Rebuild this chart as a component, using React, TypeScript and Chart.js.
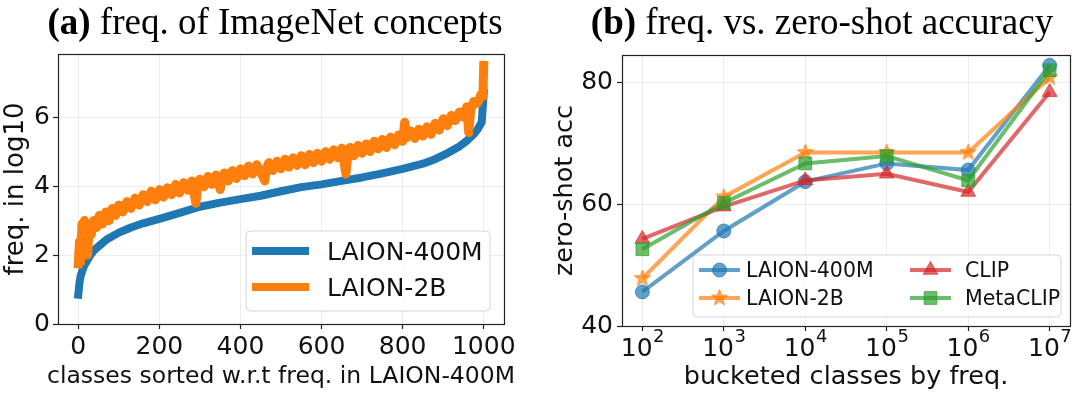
import React, { useEffect, useRef } from "react";
import { Chart, registerables } from "chart.js";
Chart.register(...registerables);

// ---------- Panel (a) data ----------
const seriesA = ["LAION-400M", "LAION-2B"];
const blueX = [0, 3, 6, 10, 15, 20, 30, 40, 50, 70, 100, 130, 160, 200, 250, 300, 350, 400, 450, 500, 550, 600, 650, 700, 750, 800, 850, 880, 910, 940, 960, 975, 985, 995, 1000];
const blueY = [0.85, 1.2, 1.4, 1.55, 1.7, 1.8, 2.0, 2.15, 2.25, 2.45, 2.65, 2.8, 2.92, 3.05, 3.22, 3.4, 3.52, 3.62, 3.72, 3.85, 3.97, 4.05, 4.15, 4.25, 4.37, 4.5, 4.65, 4.78, 4.95, 5.15, 5.33, 5.5, 5.65, 5.85, 6.7];
const orangeX = [0, 3, 6, 9, 12, 15, 19, 23, 27, 32, 38, 45, 52, 60, 68, 76, 84, 92, 100, 110, 120, 130, 140, 150, 160, 170, 180, 190, 200, 210, 220, 230, 240, 250, 260, 270, 280, 290, 295, 300, 310, 320, 330, 340, 350, 355, 360, 370, 380, 390, 400, 410, 420, 430, 440, 450, 460, 465, 470, 480, 490, 500, 510, 520, 530, 540, 550, 560, 570, 580, 590, 600, 610, 620, 630, 640, 650, 660, 665, 670, 680, 690, 700, 710, 720, 730, 740, 750, 760, 770, 780, 790, 800, 805, 810, 820, 830, 840, 850, 860, 870, 880, 890, 900, 910, 920, 930, 940, 950, 958, 963, 968, 975, 985, 993, 998, 1000];
const orangeY = [1.75, 2.4, 1.8, 2.9, 2.4, 3.0, 2.6, 2.0, 2.9, 2.6, 3.0, 2.8, 3.15, 2.9, 3.25, 3.0, 3.35, 3.15, 3.45, 3.25, 3.55, 3.35, 3.65, 3.45, 3.75, 3.55, 3.85, 3.6, 3.9, 3.68, 3.95, 3.75, 4.05, 3.8, 4.1, 3.88, 4.15, 3.5, 4.05, 4.2, 3.98, 4.28, 4.05, 4.32, 3.9, 4.25, 4.38, 4.15, 4.45, 4.22, 4.5, 4.3, 4.58, 4.35, 4.62, 4.4, 4.15, 4.55, 4.68, 4.45, 4.72, 4.5, 4.78, 4.55, 4.82, 4.6, 4.88, 4.62, 4.92, 4.68, 4.95, 4.72, 5.0, 4.78, 5.05, 4.82, 5.1, 4.35, 4.9, 5.12, 4.88, 5.18, 4.95, 5.22, 5.0, 5.3, 5.08, 5.35, 5.12, 5.42, 5.2, 5.48, 5.3, 5.85, 5.4, 5.6, 5.38, 5.65, 5.45, 5.72, 5.5, 5.82, 5.62, 5.95, 5.75, 6.05, 5.9, 6.15, 6.0, 6.3, 5.55, 6.2, 6.45, 6.4, 6.65, 6.6, 7.5];
const xTicksA = [0, 200, 400, 600, 800, 1000];
const yTicksA = [0, 2, 4, 6];

// ---------- Panel (b) data ----------
const seriesB = ["LAION-400M", "LAION-2B", "CLIP", "MetaCLIP"];
const buckets = [1e2, 1e3, 1e4, 1e5, 1e6, 1e7];
const bucketBase = "10";
const bucketExps = ["2", "3", "4", "5", "6", "7"];
const accLaion400m = [45.6, 55.6, 63.7, 66.7, 65.6, 82.8];
const accLaion2b = [47.8, 61.2, 68.5, 68.5, 68.5, 80.8];
const accClip = [54.3, 59.6, 63.9, 65.0, 62.0, 78.4];
const accMetaclip = [52.6, 60.2, 66.7, 67.9, 63.9, 82.0];
const yTicksB = [40, 60, 80];

const SANS = "'DejaVu Sans', sans-serif";
const SERIF = "'Liberation Serif', 'DejaVu Serif', serif";
const TICK_SIZE = 25;

function makeStar(color: string, r: number): HTMLCanvasElement {
  const size = Math.ceil(r * 2 + 2);
  const c = document.createElement("canvas");
  c.width = size;
  c.height = size;
  const ctx = c.getContext("2d")!;
  ctx.fillStyle = color;
  ctx.strokeStyle = color;
  ctx.lineWidth = 1;
  ctx.beginPath();
  const cx = size / 2, cy = size / 2;
  for (let i = 0; i < 10; i++) {
    const rad = i % 2 === 0 ? r : r * 0.42;
    const a = -Math.PI / 2 + (i * Math.PI) / 5;
    ctx.lineTo(cx + rad * Math.cos(a), cy + rad * Math.sin(a));
  }
  ctx.closePath();
  ctx.fill();
  ctx.stroke();
  return c;
}

function drawMarker(ctx: CanvasRenderingContext2D, style: any, x: number, y: number, r: number, color: string) {
  ctx.save();
  ctx.fillStyle = color;
  ctx.strokeStyle = color;
  ctx.lineWidth = 1;
  if (style instanceof HTMLCanvasElement) {
    ctx.drawImage(style, x - style.width / 2, y - style.height / 2);
    ctx.restore();
    return;
  }
  ctx.beginPath();
  if (style === "circle") ctx.arc(x, y, r, 0, Math.PI * 2);
  else if (style === "triangle") {
    for (let i = 0; i < 3; i++) {
      const a = (i * 2 * Math.PI) / 3;
      ctx.lineTo(x + Math.sin(a) * r, y - Math.cos(a) * r);
    }
    ctx.closePath();
  } else if (style === "rect") {
    const s = r * Math.SQRT1_2;
    ctx.rect(x - s, y - s, 2 * s, 2 * s);
  }
  ctx.fill();
  ctx.stroke();
  ctx.restore();
}

const framePlugin = {
  id: "frame",
  afterDatasetsDraw(chart: any) {
    const { ctx, chartArea } = chart;
    ctx.save();
    ctx.strokeStyle = "#222";
    ctx.lineWidth = 1.2;
    ctx.strokeRect(Math.round(chartArea.left) + 0.5, Math.round(chartArea.top) + 0.5, Math.round(chartArea.right - chartArea.left), Math.round(chartArea.bottom - chartArea.top));
    ctx.restore();
  },
};

const boxLegendPlugin = {
  id: "boxLegend",
  afterDatasetsDraw(chart: any, _args: any, opts: any) {
    if (!opts || !opts.items) return;
    const ctx: CanvasRenderingContext2D = chart.ctx;
    const { x, y, w, h, fontSize, lineLen } = opts;
    ctx.save();
    ctx.beginPath();
    const rr = 4;
    ctx.moveTo(x + rr, y);
    ctx.arcTo(x + w, y, x + w, y + h, rr);
    ctx.arcTo(x + w, y + h, x, y + h, rr);
    ctx.arcTo(x, y + h, x, y, rr);
    ctx.arcTo(x, y, x + w, y, rr);
    ctx.closePath();
    ctx.fillStyle = "rgba(255,255,255,0.8)";
    ctx.fill();
    ctx.strokeStyle = "#d6d6d6";
    ctx.lineWidth = 1;
    ctx.stroke();
    ctx.font = `${fontSize}px ${SANS}`;
    ctx.textAlign = "left";
    ctx.textBaseline = "alphabetic";
    for (const it of opts.items) {
      const ds = chart.data.datasets[it.ds];
      ctx.strokeStyle = ds.borderColor;
      ctx.lineWidth = Math.min(ds.borderWidth, opts.maxLineWidth || 99);
      ctx.lineCap = "butt";
      ctx.beginPath();
      ctx.moveTo(it.lx, it.y);
      ctx.lineTo(it.lx + lineLen, it.y);
      ctx.stroke();
      if (ds.pointRadius > 0) drawMarker(ctx, ds.pointStyle, it.lx + lineLen / 2, it.y, ds.pointRadius, ds.pointBackgroundColor);
      ctx.fillStyle = "#111";
      ctx.fillText(ds.label, it.tx, it.y + fontSize * 0.36);
    }
    ctx.restore();
  },
};

const panelTitlePlugin = {
  id: "panelTitle",
  afterDraw(chart: any, _args: any, opts: any) {
    if (!opts || !opts.text) return;
    const ctx: CanvasRenderingContext2D = chart.ctx;
    ctx.save();
    const bold = `bold ${opts.size}px ${SERIF}`;
    const norm = `${opts.size}px ${SERIF}`;
    ctx.font = bold;
    const w1 = ctx.measureText(opts.tag).width;
    ctx.font = norm;
    const rest = " " + opts.text;
    const w2 = ctx.measureText(rest).width;
    const x0 = opts.cx - (w1 + w2) / 2;
    ctx.fillStyle = "#000";
    ctx.textAlign = "left";
    ctx.textBaseline = "alphabetic";
    ctx.font = bold;
    ctx.fillText(opts.tag, x0, opts.y);
    ctx.font = norm;
    ctx.fillText(rest, x0 + w1, opts.y);
    ctx.restore();
  },
};

// x-axis caption centred under the plot area (drawn without width squeezing)
const xCaptionPlugin = {
  id: "xCaption",
  afterDraw(chart: any, _args: any, opts: any) {
    if (!opts || !opts.text) return;
    const ctx: CanvasRenderingContext2D = chart.ctx;
    const { left, right } = chart.chartArea;
    ctx.save();
    ctx.font = `${opts.size}px ${SANS}`;
    ctx.fillStyle = "#111";
    ctx.textAlign = "center";
    ctx.textBaseline = "alphabetic";
    ctx.fillText(opts.text, (left + right) / 2, opts.y);
    ctx.restore();
  },
};

// power-of-ten tick labels with a real superscript, placed at the scale's own tick pixels
const powerTicksPlugin = {
  id: "powerTicks",
  afterDraw(chart: any, _args: any, opts: any) {
    if (!opts || !opts.exps) return;
    const scale = chart.scales.x;
    const ctx: CanvasRenderingContext2D = chart.ctx;
    ctx.save();
    ctx.fillStyle = "#111";
    ctx.textAlign = "left";
    ctx.textBaseline = "alphabetic";
    scale.ticks.forEach((t: any, i: number) => {
      const px = scale.getPixelForValue(t.value);
      const exp = opts.exps[i];
      ctx.font = `${opts.size}px ${SANS}`;
      const wb = ctx.measureText(opts.base).width;
      ctx.font = `${opts.supSize}px ${SANS}`;
      const we = ctx.measureText(exp).width;
      const x0 = px - (wb + we) / 2;
      ctx.font = `${opts.size}px ${SANS}`;
      ctx.fillText(opts.base, x0, opts.baseY);
      ctx.font = `${opts.supSize}px ${SANS}`;
      ctx.fillText(exp, x0 + wb + 0.5, opts.supY);
    });
    ctx.restore();
  },
};

const GRID = "#ececec";

function leftConfig(): any {
  return {
    type: "line",
    data: {
      datasets: [
        {
          label: seriesA[0],
          data: blueX.map((x, i) => ({ x, y: blueY[i] })),
          borderColor: "#1f77b4",
          borderWidth: 8,
          pointRadius: 0,
          borderJoinStyle: "round",
          borderCapStyle: "square",
          tension: 0,
          order: 2,
        },
        {
          label: seriesA[1],
          data: orangeX.map((x, i) => ({ x, y: orangeY[i] })),
          borderColor: "#ff7f0e",
          borderWidth: 9,
          pointRadius: 0,
          borderJoinStyle: "round",
          borderCapStyle: "square",
          tension: 0,
          order: 1,
        },
      ],
    },
    plugins: [framePlugin, boxLegendPlugin, panelTitlePlugin, xCaptionPlugin],
    options: {
      animation: false,
      responsive: false,
      devicePixelRatio: 1,
      layout: { padding: { top: 54, right: 36, left: 0, bottom: 0 } },
      plugins: {
        legend: { display: false },
        title: { display: false },
        tooltip: { enabled: false },
        boxLegend: {
          x: 246, y: 231, w: 244, h: 80, fontSize: 25, lineLen: 57, maxLineWidth: 8,
          items: [
            { ds: 0, lx: 252, y: 251, tx: 327 },
            { ds: 1, lx: 252, y: 287, tx: 327 },
          ],
        },
        panelTitle: { tag: "(a)", text: "freq. of ImageNet concepts", size: 37, cx: 275, y: 34 },
        xCaption: { text: "classes sorted w.r.t freq. in LAION-400M", size: 23.5, y: 383 },
      },
      scales: {
        x: {
          type: "linear",
          min: -50,
          max: 1050,
          afterBuildTicks: (s: any) => { s.ticks = xTicksA.map((v) => ({ value: v })); },
          afterFit: (s: any) => { s.height = 75; },
          ticks: { font: { family: SANS, size: TICK_SIZE }, color: "#111", padding: 3, maxRotation: 0, autoSkip: false, callback: (v: number) => String(v) },
          grid: { color: GRID, lineWidth: 1, tickColor: "#222", tickLength: 5, tickWidth: 1.2 },
          border: { display: false },
          title: { display: false },
        },
        y: {
          type: "linear",
          min: 0,
          max: 7.83,
          afterBuildTicks: (s: any) => { s.ticks = yTicksA.map((v) => ({ value: v })); },
          afterFit: (s: any) => { s.width = 58; },
          ticks: { font: { family: SANS, size: TICK_SIZE }, color: "#111", padding: 3, callback: (v: number) => String(v) },
          grid: { color: GRID, lineWidth: 1, tickColor: "#222", tickLength: 5, tickWidth: 1.2 },
          border: { display: false },
          title: { display: true, text: "freq. in log10", font: { family: SANS, size: 26 }, color: "#111", padding: { top: 1, bottom: 0 } },
        },
      },
    },
  };
}

function rightConfig(): any {
  const blue = "rgba(31,119,180,0.7)";
  const orange = "rgba(255,127,14,0.7)";
  const red = "rgba(214,39,40,0.7)";
  const green = "rgba(44,160,44,0.7)";
  const star = makeStar(orange, 8.5);
  const mk = (label: string, vals: number[], color: string, style: any, r: number, order: number) => ({
    label,
    data: buckets.map((x, i) => ({ x, y: vals[i] })),
    borderColor: color,
    backgroundColor: color,
    borderWidth: 4,
    pointStyle: style,
    pointRadius: r,
    pointBackgroundColor: color,
    pointBorderColor: color,
    pointBorderWidth: 1,
    tension: 0,
    order,
  });
  return {
    type: "line",
    data: {
      datasets: [
        mk(seriesB[0], accLaion400m, blue, "circle", 7, 4),
        mk(seriesB[1], accLaion2b, orange, star, 8.5, 3),
        mk(seriesB[2], accClip, red, "triangle", 8.5, 2),
        mk(seriesB[3], accMetaclip, green, "rect", 9, 1),
      ],
    },
    plugins: [framePlugin, boxLegendPlugin, panelTitlePlugin, powerTicksPlugin],
    options: {
      animation: false,
      responsive: false,
      devicePixelRatio: 1,
      layout: { padding: { top: 55, right: 9, left: 0, bottom: 0 } },
      plugins: {
        legend: { display: false },
        title: { display: false },
        tooltip: { enabled: false },
        boxLegend: {
          x: 153, y: 255, w: 368, h: 62, fontSize: 20.5, lineLen: 41,
          items: [
            { ds: 0, lx: 159, y: 270, tx: 206 },
            { ds: 1, lx: 159, y: 298, tx: 206 },
            { ds: 2, lx: 370, y: 270, tx: 425 },
            { ds: 3, lx: 370, y: 298, tx: 425 },
          ],
        },
        panelTitle: { tag: "(b)", text: "freq. vs. zero-shot accuracy", size: 37, cx: 282, y: 34 },
        powerTicks: { base: bucketBase, exps: bucketExps, size: TICK_SIZE, supSize: 18, baseY: 356, supY: 342 },
      },
      scales: {
        x: {
          type: "logarithmic",
          min: Math.pow(10, 1.75),
          max: Math.pow(10, 7.25),
          afterBuildTicks: (s: any) => { s.ticks = buckets.map((v) => ({ value: v, major: true })); },
          afterFit: (s: any) => { s.height = 73; },
          ticks: { display: false, autoSkip: false, maxRotation: 0 },
          grid: { color: GRID, lineWidth: 1, tickColor: "#222", tickLength: 5, tickWidth: 1.2 },
          border: { display: false },
          title: { display: true, text: "bucketed classes by freq.", font: { family: SANS, size: 25.5 }, color: "#111", padding: { top: 0, bottom: 6 } },
        },
        y: {
          type: "linear",
          min: 40,
          max: 84.5,
          afterBuildTicks: (s: any) => { s.ticks = yTicksB.map((v) => ({ value: v })); },
          afterFit: (s: any) => { s.width = 82; },
          ticks: { font: { family: SANS, size: TICK_SIZE }, color: "#111", padding: 4, callback: (v: number) => String(v) },
          grid: { color: GRID, lineWidth: 1, tickColor: "#222", tickLength: 5, tickWidth: 1.2 },
          border: { display: false },
          title: { display: true, text: "zero-shot acc", font: { family: SANS, size: 25.5 }, color: "#111", padding: { top: 10, bottom: 0 } },
        },
      },
    },
  };
}

export default function App() {
  const leftRef = useRef<HTMLCanvasElement>(null);
  const rightRef = useRef<HTMLCanvasElement>(null);
  useEffect(() => {
    document.body.style.margin = "0";
    document.body.style.background = "#fff";
    const a = new Chart(leftRef.current!, leftConfig());
    const b = new Chart(rightRef.current!, rightConfig());
    return () => {
      a.destroy();
      b.destroy();
    };
  }, []);
  return (
    <div style={{ position: "relative", width: 1080, height: 399, background: "#fff", overflow: "hidden" }}>
      <canvas ref={leftRef} width={540} height={399} style={{ position: "absolute", left: 0, top: 0, display: "block" }} />
      <canvas ref={rightRef} width={540} height={399} style={{ position: "absolute", left: 540, top: 0, display: "block" }} />
    </div>
  );
}
